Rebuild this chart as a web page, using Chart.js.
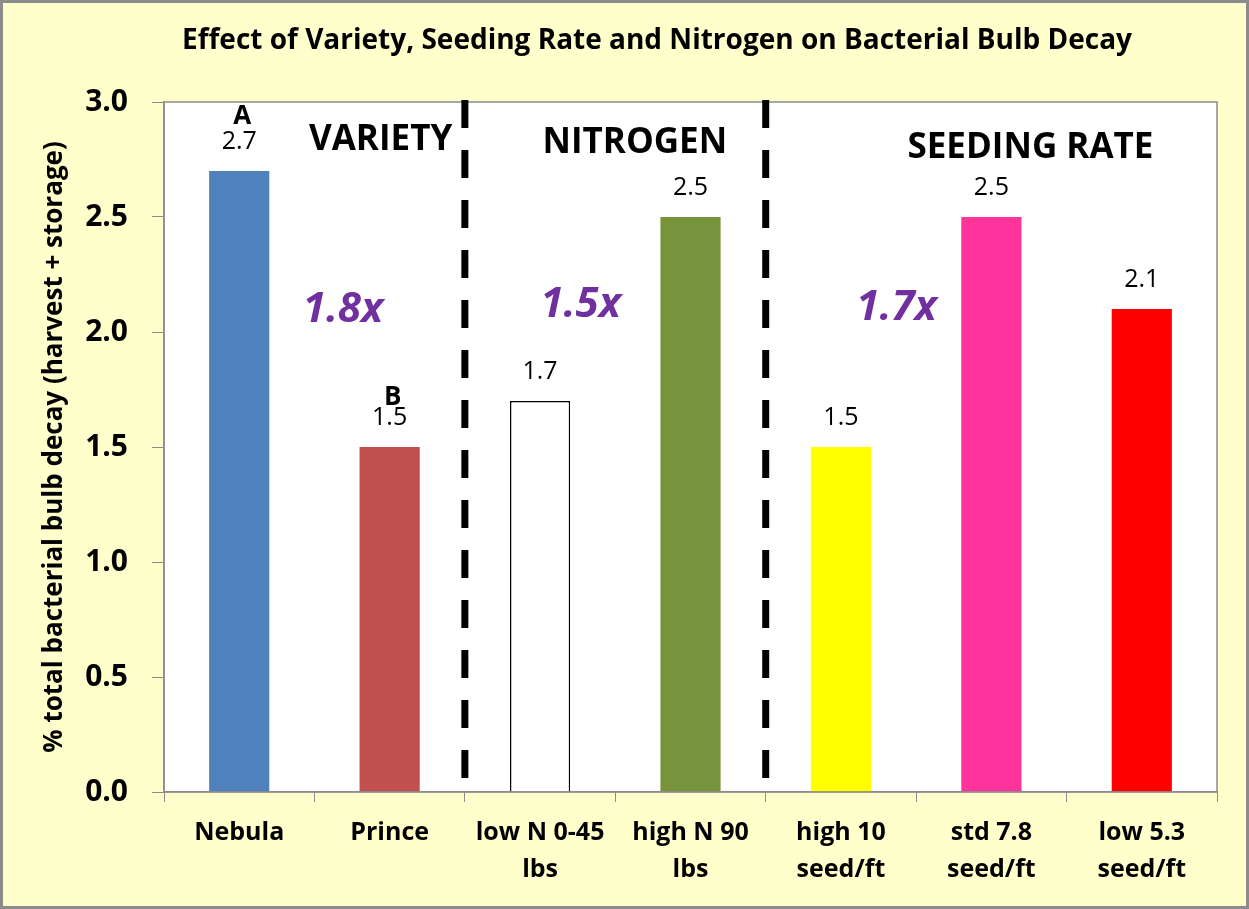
<!DOCTYPE html>
<html>
<head>
<meta charset="utf-8">
<script src="https://cdn.jsdelivr.net/npm/chart.js@4"></script>
<style>
  html, body { margin: 0; padding: 0; background: #ffffcc; }
  #wrap { width: 1249px; height: 909px; }
</style>
</head>
<body>
<div id="wrap"><canvas id="chart" width="1249" height="909"></canvas></div>
<script>
const categories = [['Nebula'], ['Prince'], ['low N 0-45', 'lbs'], ['high N 90', 'lbs'], ['high 10', 'seed/ft'], ['std 7.8', 'seed/ft'], ['low 5.3', 'seed/ft']]
const decay = [2.7, 1.5, 1.7, 2.5, 1.5, 2.5, 2.1]
const letters = ['A', 'B', '', '', '', '', '']
const barColors = ['#4f81bd', '#c0504d', '#ffffff', '#77933c', '#ffff00', '#ff3399', '#ff0000']
const barBorderWidths = [0, 0, 1.5, 0, 0, 0, 0]
const yTicks = [0, 0.5, 1.0, 1.5, 2.0, 2.5, 3.0]
const groupLabels = ['VARIETY', 'NITROGEN', 'SEEDING RATE']
const ratioLabels = ['1.8x', '1.5x', '1.7x']
const dividers = [1.5, 3.5]

const FONT = "'Open Sans', sans-serif"

const decorations = {
  id: 'decorations',
  beforeDraw(chart) {
    const { ctx, chartArea: a, width, height } = chart
    ctx.save()
    ctx.fillStyle = '#ffffcc'
    ctx.fillRect(0, 0, width, height)
    ctx.strokeStyle = '#8c8c8c'
    ctx.lineWidth = 3
    ctx.strokeRect(1.5, 1.5, width - 3, height - 3)
    ctx.fillStyle = '#ffffff'
    ctx.fillRect(a.left, a.top, a.right - a.left, a.bottom - a.top)
    ctx.restore()
  },
  afterDraw(chart) {
    const { ctx, chartArea: a } = chart
    const x = chart.scales.x
    const y = chart.scales.y
    ctx.save()

    ctx.strokeStyle = '#8c8c8c'
    ctx.lineWidth = 1.5
    ctx.strokeRect(a.left, a.top, a.right - a.left, a.bottom - a.top)

    // title
    ctx.fillStyle = '#000'
    ctx.textAlign = 'center'
    ctx.textBaseline = 'middle'
    ctx.font = "bold 28px " + FONT
    ctx.fillText('Effect of Variety, Seeding Rate and Nitrogen on Bacterial Bulb Decay', 657, 41)

    // dashed dividers
    ctx.strokeStyle = '#000'
    ctx.lineWidth = 7
    ctx.setLineDash([28, 22])
    dividers.forEach(d => {
      const px = x.getPixelForValue(d)
      ctx.beginPath()
      ctx.moveTo(px, a.top - 2)
      ctx.lineTo(px, a.bottom + 2)
      ctx.stroke()
    })
    ctx.setLineDash([])

    // group labels
    const groupPos = [[0.94, 2.835], [2.63, 2.82], [5.26, 2.80]]
    ctx.font = "bold 35px " + FONT
    groupLabels.forEach((t, i) => {
      ctx.fillText(t, x.getPixelForValue(groupPos[i][0]), y.getPixelForValue(groupPos[i][1]))
    })

    // ratios
    const ratioPos = [[0.69, 2.095], [2.27, 2.117], [4.37, 2.104]]
    ctx.fillStyle = '#7030a0'
    ctx.font = "italic bold 42px " + FONT
    ratioLabels.forEach((t, i) => {
      ctx.fillText(t, x.getPixelForValue(ratioPos[i][0]), y.getPixelForValue(ratioPos[i][1]))
    })

    // value labels and letters
    const meta = chart.getDatasetMeta(0)
    meta.data.forEach((bar, i) => {
      ctx.fillStyle = '#000'
      ctx.font = "25px " + FONT
      ctx.fillText(decay[i].toFixed(1), bar.x, bar.y - 29)
      if (letters[i]) {
        ctx.font = "bold 26px " + FONT
        ctx.fillText(letters[i], bar.x + 3, bar.y - 29 - (i === 0 ? 25 : 20))
      }
    })
    ctx.restore()
  }
}

new Chart(document.getElementById('chart'), {
  type: 'bar',
  data: {
    labels: categories,
    datasets: [{
      data: decay,
      backgroundColor: barColors,
      borderColor: '#000000',
      borderWidth: barBorderWidths,
      barPercentage: 0.4,
      categoryPercentage: 1
    }]
  },
  options: {
    responsive: false,
    animation: false,
    layout: { padding: { top: 102, right: 32, left: 0, bottom: 0 } },
    plugins: {
      legend: { display: false },
      tooltip: { enabled: false }
    },
    scales: {
      x: {
        afterFit(scale) { scale.height = 117 },
        grid: { offset: true, drawOnChartArea: false, tickLength: 10, color: '#8c8c8c' },
        border: { color: '#8c8c8c', width: 1.5 },
        ticks: { color: '#000', padding: 12, font: { family: FONT, size: 25, weight: 'bold', lineHeight: 1.5 }, maxRotation: 0, autoSkip: false }
      },
      y: {
        min: 0,
        max: 3,
        afterFit(scale) { scale.width = 164 },
        afterBuildTicks(scale) { scale.ticks = yTicks.map(v => ({ value: v })) },
        grid: { drawOnChartArea: false, tickLength: 12, color: '#8c8c8c' },
        border: { color: '#8c8c8c', width: 1.5 },
        ticks: { color: '#000', padding: 24, font: { family: FONT, size: 30, weight: 'bold' }, callback: v => Number(v).toFixed(1) },
        title: {
          display: true,
          text: '% total bacterial bulb decay (harvest + storage)',
          color: '#000',
          padding: { top: 39, bottom: 0 },
          font: { family: FONT, size: 26, weight: 'bold' }
        }
      }
    }
  },
  plugins: [decorations]
})
</script>
</body>
</html>
